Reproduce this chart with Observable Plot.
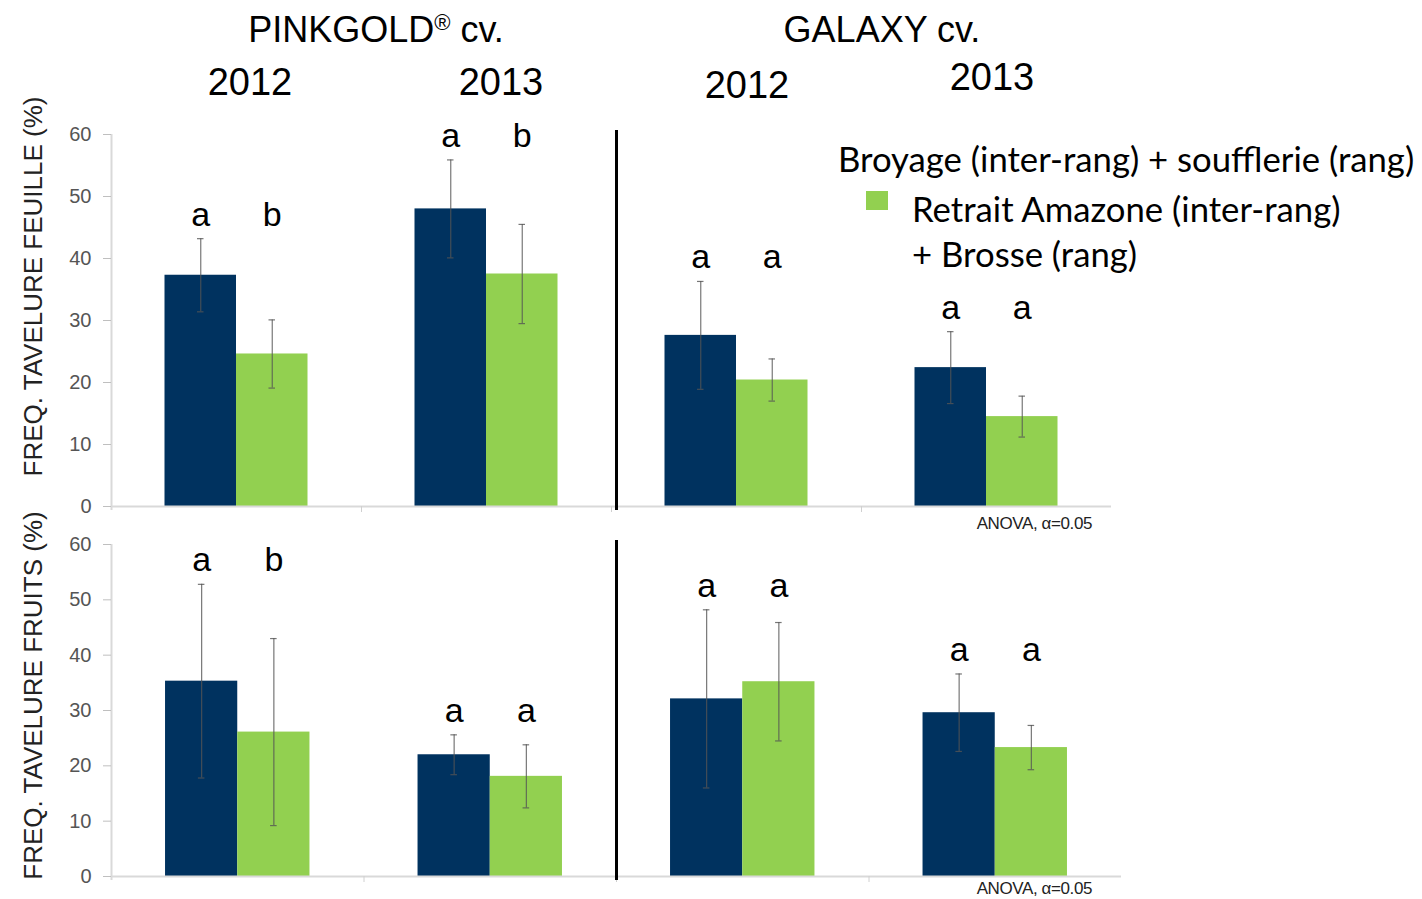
<!DOCTYPE html>
<html>
<head>
<meta charset="utf-8">
<script src="https://cdn.jsdelivr.net/npm/d3@7"></script>
<script src="https://cdn.jsdelivr.net/npm/@observablehq/plot@0.6"></script>
<style>
  html, body { margin: 0; padding: 0; background: #fff; overflow: hidden; }
  #wrap { position: relative; width: 1422px; height: 899px; }
  #wrap > svg, #wrap > figure { position: absolute; margin: 0; }
  .overlay { left: 0; top: 0; pointer-events: none; }
</style>
</head>
<body>
<div id="wrap"></div>
<script>
// ---------------- DATA ----------------
const cultivars = ["PINKGOLD", "GALAXY"];
const groupCultivar = ["PINKGOLD", "PINKGOLD", "GALAXY", "GALAXY"];
const groupYears = ["2012", "2013", "2012", "2013"];
const treatments = [
  "Broyage (inter-rang) + soufflerie (rang)",
  "Retrait Amazone (inter-rang) + Brosse (rang)"
];
const legendLines = [
  ["Broyage (inter-rang) + soufflerie (rang)"],
  ["Retrait Amazone (inter-rang)", "+ Brosse (rang)"]
];
const yTicks = [0, 10, 20, 30, 40, 50, 60];

// Leaf scab frequency (%)
const leafBroyage      = [37.3, 48.0, 27.6, 22.4];
const leafBroyageErr   = [5.9, 7.9, 8.7, 5.8];
const leafAmazone      = [24.6, 37.5, 20.4, 14.5];
const leafAmazoneErr   = [5.5, 8.0, 3.4, 3.3];
const leafLetters      = [["a", "b"], ["a", "b"], ["a", "a"], ["a", "a"]];

// Fruit scab frequency (%)
const fruitBroyage     = [35.3, 22.0, 32.1, 29.6];
const fruitBroyageErr  = [17.5, 3.6, 16.1, 7.0];
const fruitAmazone     = [26.1, 18.1, 35.2, 23.3];
const fruitAmazoneErr  = [16.9, 5.7, 10.7, 4.0];
const fruitLetters     = [["a", "b"], ["a", "a"], ["a", "a"], ["a", "a"]];

const leafLabel  = "FREQ. TAVELURE FEUILLE (%)";
const fruitLabel = "FREQ. TAVELURE FRUITS (%)";
const anovaNote  = "ANOVA, \u03b1=0.05";

// ---------------- STYLE ----------------
const COLORS = ["#00325f", "#92d050"];
const FONT = "'Liberation Sans', Arial, sans-serif";
const barW = 0.286;   // bar width as fraction of a group step
const capW = 0.013;   // half width of error-bar cap

const wrap = document.getElementById("wrap");

function panel({series, errs, letters, label, top, height, marginTop, marginBottom, marginRight, labelDy, labelSpacing, dividerDx}) {
  const rows = groupYears.flatMap((g, i) => treatments.map((t, j) => ({
    i, j, t, v: series[j][i], e: errs[j][i], letter: letters[i][j]
  })));
  const center = r => r.i + 0.5 + (r.j - 0.5) * barW;
  const groupTop = i => d3.max(rows.filter(r => r.i === i), r => r.v + r.e);
  const caps = rows.flatMap(r => [{...r, y: r.v - r.e}, {...r, y: r.v + r.e}]);
  const divider = groupCultivar.findIndex(c => c !== groupCultivar[0]);
  const boundaries = d3.range(1, groupYears.length);

  const chart = Plot.plot({
    width: 1422,
    height,
    marginLeft: 111,
    marginRight,
    marginTop,
    marginBottom,
    style: {fontFamily: FONT, background: "transparent", overflow: "visible"},
    x: {domain: [0, groupYears.length]},
    y: {domain: [0, 60]},
    color: {domain: treatments, range: COLORS},
    marks: [
      Plot.rect(rows, {x1: r => r.i + 0.5 + (r.j - 1) * barW, x2: r => r.i + 0.5 + r.j * barW, y1: 0, y2: "v", fill: "t"}),
      Plot.ruleY([0], {stroke: "#d9d9d9", strokeWidth: 2}),
      Plot.ruleX([0], {stroke: "#d9d9d9", strokeWidth: 2, insetBottom: -4}),
      Plot.axisX({ticks: boundaries, tickSize: 6, tickFormat: () => "", stroke: "#d0d0d0", label: null}),
      Plot.axisY({ticks: yTicks, tickSize: 8, tickPadding: 12, fontSize: 20, stroke: "#bfbfbf", fill: "#555", label: null}),
      Plot.ruleX(rows, {x: center, y1: r => r.v - r.e, y2: r => r.v + r.e, stroke: "#555", strokeWidth: 1.2, strokeOpacity: 0.8}),
      Plot.ruleY(caps, {y: "y", x1: r => center(r) - capW, x2: r => center(r) + capW, stroke: "#555", strokeWidth: 1.2, strokeOpacity: 0.8}),
      Plot.text(rows, {x: center, y: r => groupTop(r.i), text: "letter", dy: -24, fontSize: 34, fill: "#000"}),
      Plot.ruleX([divider], {stroke: "#000", strokeWidth: 3, insetTop: -4, insetBottom: -4, dx: dividerDx}),
      Plot.text([label], {text: d => d, frameAnchor: "left", textAnchor: "middle", rotate: -90, dx: -78, dy: labelDy,
        fontSize: 26, fill: "#222", style: {letterSpacing: labelSpacing + "px"}})
    ]
  });
  chart.style.left = "0px";
  chart.style.top = top + "px";
  wrap.appendChild(chart);
}

panel({
  series: [leafBroyage, leafAmazone], errs: [leafBroyageErr, leafAmazoneErr], letters: leafLetters,
  label: leafLabel, top: 120, height: 400, marginTop: 14, marginBottom: 14, marginRight: 311, labelDy: -34, labelSpacing: 0.3, dividerDx: 5
});
panel({
  series: [fruitBroyage, fruitAmazone], errs: [fruitBroyageErr, fruitAmazoneErr], letters: fruitLetters,
  label: fruitLabel, top: 530, height: 365, marginTop: 14, marginBottom: 19, marginRight: 301, labelDy: -15, labelSpacing: 1.2, dividerDx: 0
});

// ---------------- TITLES, LEGEND, NOTES ----------------
const ov = d3.select(wrap).append("svg")
  .attr("class", "overlay").attr("width", 1422).attr("height", 899)
  .style("font-family", FONT);

const cultTitles = [
  {c: cultivars[0], x: 376, y: 42},
  {c: cultivars[1], x: 882, y: 42}
];
cultTitles.forEach(({c, x, y}) => {
  const t = ov.append("text").attr("x", x).attr("y", y).attr("text-anchor", "middle")
    .attr("font-size", 36).attr("fill", "#000");
  t.append("tspan").text(c);
  if (c === "PINKGOLD") t.append("tspan").attr("font-size", 22).attr("dy", -12).text("\u00ae");
  t.append("tspan").attr("dy", c === "PINKGOLD" ? 12 : 0).text(" cv.");
});
const yearPos = [{x: 250, y: 95}, {x: 501, y: 95}, {x: 747, y: 98}, {x: 992, y: 90}];
groupYears.forEach((yr, i) => {
  ov.append("text").attr("x", yearPos[i].x).attr("y", yearPos[i].y).attr("text-anchor", "middle")
    .attr("font-size", 38).attr("fill", "#000").text(yr);
});

// legend (only the second treatment had a swatch in the original)
const LFONT = "Lato, 'Open Sans', sans-serif";
const LSIZE = 34.7;
ov.append("text").attr("x", 838).attr("y", 172).attr("font-family", LFONT).attr("font-size", LSIZE)
  .attr("fill", "#000").text(legendLines[0][0]);
ov.append("rect").attr("x", 866).attr("y", 191).attr("width", 22).attr("height", 19).attr("fill", COLORS[1]);
legendLines[1].forEach((ln, k) => {
  ov.append("text").attr("x", 912).attr("y", 222 + k * 45).attr("font-family", LFONT).attr("font-size", LSIZE)
    .attr("fill", "#000").text(ln);
});

[529, 894].forEach(y => {
  ov.append("text").attr("x", 1092).attr("y", y).attr("text-anchor", "end")
    .attr("font-size", 17).attr("fill", "#222").attr("letter-spacing", -0.4).text(anovaNote);
});
</script>
</body>
</html>
